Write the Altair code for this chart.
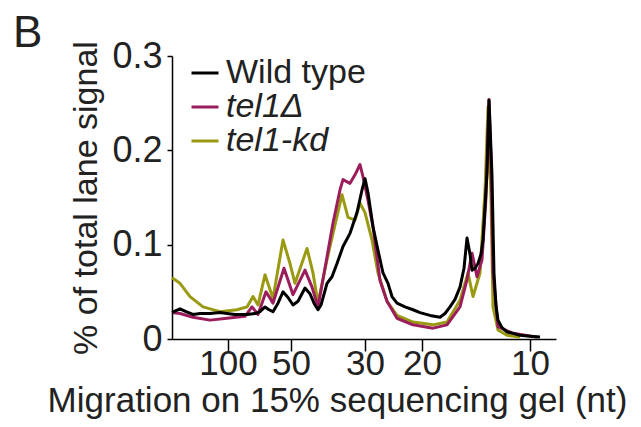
import altair as alt
import pandas as pd

# Migration distance (arbitrary units along the gel) and fraction of total lane signal
wt_x = [0.0, 0.4, 0.8, 1.4, 2.1, 2.8, 3.8, 4.8, 5.5, 6.3, 7.5, 8.3, 8.8, 9.3, 9.7, 10.1, 10.6, 11.1,
        11.6, 12.1, 12.6, 13.3, 13.8, 14.2, 14.6, 14.9, 15.5, 16.0, 16.5, 17.1, 17.8, 18.5, 19.0, 19.3,
        19.6, 20.1, 20.6, 21.1, 21.6, 22.0, 22.5, 23.3, 24.1, 24.8, 25.8, 26.8, 27.3, 27.8, 28.3, 28.8,
        29.2, 29.5, 29.8, 30.0, 30.3, 30.6, 30.9, 31.1, 31.3, 31.5, 31.7, 31.9, 32.0, 32.1, 32.2, 32.4,
        32.6, 33.0, 33.5, 34.1, 34.8, 35.8, 36.8]
wt_y = [0.028, 0.030, 0.032, 0.029, 0.026, 0.027, 0.027, 0.028, 0.027, 0.026, 0.026, 0.027, 0.029, 0.034,
        0.031, 0.029, 0.038, 0.050, 0.044, 0.036, 0.040, 0.054, 0.048, 0.038, 0.031, 0.036, 0.059, 0.066,
        0.080, 0.098, 0.112, 0.134, 0.158, 0.170, 0.155, 0.119, 0.094, 0.070, 0.059, 0.045, 0.038, 0.034,
        0.031, 0.028, 0.025, 0.023, 0.027, 0.034, 0.042, 0.055, 0.075, 0.107, 0.090, 0.073, 0.075, 0.080,
        0.090, 0.105, 0.140, 0.176, 0.253, 0.200, 0.173, 0.120, 0.070, 0.035, 0.020, 0.012, 0.0075, 0.006,
        0.004, 0.003, 0.002]

d_x = [0.0, 0.8, 2.1, 3.8, 5.5, 7.3, 8.0, 8.6, 9.4, 10.1, 11.2, 12.1, 13.3, 14.0, 14.6, 15.5, 16.1, 16.8,
       17.1, 17.8, 18.3, 18.8, 19.1, 19.6, 20.1, 20.8, 21.5, 22.5, 24.1, 26.1, 27.5, 28.8, 29.5, 30.0,
       30.5, 31.0, 31.4, 31.7, 31.9, 32.1, 32.6, 34.1, 36.5]
d_y = [0.028, 0.027, 0.023, 0.020, 0.022, 0.024, 0.034, 0.026, 0.050, 0.038, 0.075, 0.047, 0.073, 0.055,
       0.034, 0.087, 0.123, 0.158, 0.169, 0.165, 0.174, 0.185, 0.172, 0.147, 0.119, 0.062, 0.040, 0.022,
       0.015, 0.0115, 0.015, 0.034, 0.063, 0.091, 0.066, 0.084, 0.150, 0.254, 0.190, 0.070, 0.013, 0.006,
       0.002]

kd_x = [0.0, 0.8, 1.8, 3.1, 4.8, 6.5, 7.5, 8.1, 8.6, 9.3, 10.1, 11.1, 11.8, 12.3, 13.5, 14.1, 14.6, 15.5,
        16.1, 17.0, 17.6, 18.3, 18.8, 19.3, 20.0, 20.6, 21.5, 22.5, 24.1, 26.1, 27.5, 28.8, 29.6, 30.1,
        30.8, 31.3, 31.6, 31.9, 32.1, 32.6, 33.5, 34.8]
kd_y = [0.065, 0.059, 0.045, 0.034, 0.029, 0.031, 0.034, 0.045, 0.036, 0.068, 0.043, 0.105, 0.080, 0.059,
        0.096, 0.070, 0.038, 0.084, 0.112, 0.153, 0.129, 0.126, 0.144, 0.134, 0.105, 0.070, 0.040, 0.025,
        0.018, 0.015, 0.018, 0.041, 0.070, 0.045, 0.070, 0.158, 0.246, 0.150, 0.034, 0.0095, 0.004, 0.002]

series_names = ["Wild type", "tel1Δ", "tel1-kd"]
series_colors = ["#000000", "#9b1d5b", "#9a9a12"]

tick_pos = [5.6, 11.9, 19.3, 25.0, 35.8]
tick_lab = ["100", "50", "30", "20", "10"]

rows = []
for name, xs, ys in [("tel1-kd", kd_x, kd_y), ("tel1Δ", d_x, d_y), ("Wild type", wt_x, wt_y)]:
    for x, y in zip(xs, ys):
        rows.append({"strain": name, "mig": x, "signal": y})
df = pd.DataFrame(rows)

label_expr = "[" + ",".join(f"'{l}'" for l in tick_lab) + "][indexof([" + ",".join(str(p) for p in tick_pos) + "], datum.value)]"

FONT = "Liberation Sans"

chart = alt.Chart(df).mark_line(strokeWidth=3, strokeJoin="round").encode(
    x=alt.X("mig:Q", scale=alt.Scale(domain=[0, 38.4], nice=False, zero=False),
            axis=alt.Axis(values=tick_pos, labelExpr=label_expr, title="Migration on 15% sequencing gel (nt)",
                          tickSize=12, labelFontSize=35, titleFontSize=35, labelPadding=-5, titlePadding=2,
                          titleX=165, titleAlign="center",
                          labelFlush=False, grid=False)),
    y=alt.Y("signal:Q", scale=alt.Scale(domain=[0, 0.3], nice=False),
            axis=alt.Axis(values=[0, 0.1, 0.2, 0.3], labelExpr="datum.value == 0 ? '0' : format(datum.value, '.1f')",
                          title="% of total lane signal", tickSize=5, labelFontSize=36, titleFontSize=34,
                          labelPadding=5, titlePadding=8, grid=False)),
    color=alt.Color("strain:N", scale=alt.Scale(domain=series_names, range=series_colors),
                    legend=alt.Legend(title=None, orient="none", legendX=16, legendY=0, symbolType="stroke",
                                      symbolStrokeWidth=3, symbolSize=729, labelFontSize=34,
                                      labelFont=FONT, labelColor="#222222", rowPadding=-11, labelOffset=4,
                                      labelFontStyle=alt.ExprRef("datum.label == 'Wild type' ? 'normal' : 'italic'"))),
).properties(
    width=384, height=283,
    title=alt.TitleParams("B", anchor="start", frame="group", dx=-159, dy=26, fontSize=44, font=FONT,
                          fontWeight="normal", color="#222222", offset=8),
    padding={"left": 172, "top": 56, "right": 85, "bottom": 88},
    autosize="none",
).configure_view(stroke=None).configure_axis(
    domainColor="#000000", tickColor="#000000", domainWidth=1.5, tickWidth=1.5,
    labelFont=FONT, titleFont=FONT, labelColor="#222222", titleColor="#222222", titleFontWeight="normal",
)

chart.save("out.html", embed_options={"renderer": "svg", "actions": False})
